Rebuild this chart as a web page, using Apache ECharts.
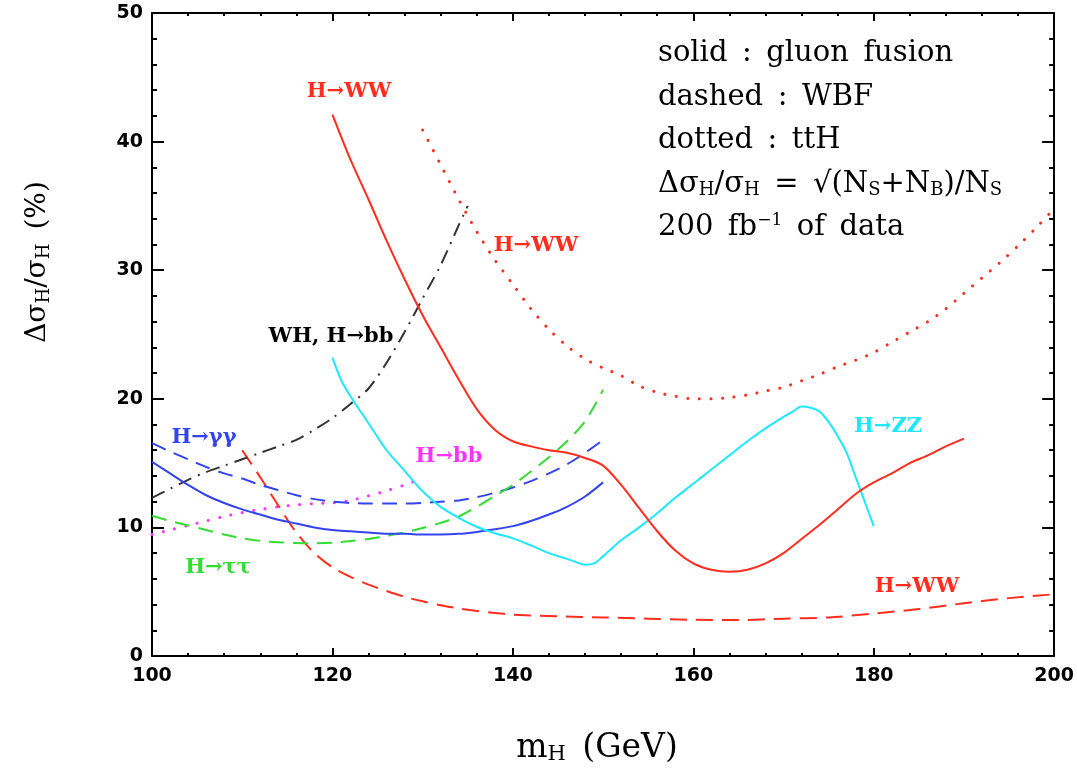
<!DOCTYPE html>
<html><head><meta charset="utf-8">
<script src="https://cdn.jsdelivr.net/npm/echarts@6/dist/echarts.min.js"></script>
<style>html,body{margin:0;padding:0;background:#fff}#c{width:1077px;height:772px}</style>
</head><body><div id="c"></div>
<script>
// ---- data ----
// gluon fusion, H->WW (red solid)
const wwGgfX = [120,122,124,126,128,130,132,134,136,138,140,142,144,146,148,150,152,154,156,158,160,162,164,166,168,170,172,174,176,178,180,182,184,186,188,190];
const wwGgfY = [42.1,38.6,35.5,32.3,29.3,26.5,24.0,21.5,19.2,17.6,16.7,16.3,16.0,15.8,15.4,14.8,13.3,11.5,9.7,8.2,7.2,6.7,6.55,6.7,7.2,8.0,9.1,10.2,11.4,12.6,13.5,14.2,15.0,15.6,16.3,16.9];
// ttH, H->WW (red dotted)
const wwTthX = [130,132,134,136,138,140,142,144,146,148,150,152,154,156,158,160,162,164,166,168,170,172,174,176,178,180,182,184,186,188,190,192,194,196,198,200];
const wwTthY = [40.9,38.2,35.5,33.0,30.8,28.9,27.0,25.4,24.1,23.1,22.4,21.8,21.0,20.5,20.2,20.0,20.0,20.1,20.3,20.6,20.9,21.4,21.9,22.5,23.0,23.6,24.4,25.2,26.0,27.0,28.2,29.4,30.6,31.9,33.3,34.8];
// WBF, H->WW (red dashed)
const wwWbfX = [110,112,114,116,118,120,122,124,126,128,130,132,134,136,138,140,145,150,155,160,165,170,175,180,185,190,195,200];
const wwWbfY = [16.0,13.9,11.7,9.6,8.0,6.9,6.15,5.55,5.05,4.6,4.25,3.95,3.7,3.5,3.35,3.22,3.08,3.0,2.9,2.82,2.8,2.9,3.0,3.3,3.65,4.1,4.5,4.8];
// gluon fusion, H->ZZ (cyan solid)
const zzX = [120,121,122,124,126,128,130,132,134,136,138,140,142,144,146,147,148,149,150,152,154,156,158,160,162,164,166,168,170,171,172,173,174,175,176,177,178,179,180];
const zzY = [23.2,21.4,20.2,18.1,16.0,14.4,12.8,11.6,10.75,10.05,9.55,9.15,8.6,8.0,7.55,7.3,7.1,7.2,7.75,9.0,10.0,11.1,12.3,13.4,14.5,15.6,16.7,17.7,18.6,19.0,19.4,19.3,19.0,18.2,17.1,15.8,13.9,12.0,10.1];
// H->gamma gamma (blue), H->tau tau (green), x from 100 to 150
const lowX = [100,102,104,106,108,110,112,114,116,118,120,122,124,126,128,130,132,134,136,138,140,142,144,146,148,150];
const gamGgfY = [15.1,14.2,13.3,12.5,11.9,11.4,11.0,10.6,10.3,10.0,9.8,9.7,9.6,9.5,9.5,9.45,9.45,9.5,9.65,9.85,10.1,10.5,11.0,11.6,12.4,13.5];
const gamWbfY = [16.55,15.9,15.3,14.7,14.2,13.8,13.3,12.9,12.5,12.2,12.0,11.9,11.85,11.85,11.85,11.9,12.0,12.1,12.35,12.7,13.1,13.6,14.2,14.9,15.8,16.8];
const tauWbfY = [10.9,10.5,10.15,9.8,9.45,9.15,8.95,8.85,8.78,8.76,8.8,8.95,9.1,9.35,9.6,9.95,10.35,10.85,11.6,12.45,13.3,14.35,15.45,16.7,18.25,20.7];
// ttH, H->bb (magenta dotted)
const bbTthX = [100,102,104,106,108,110,112,114,116,118,120,122,124,126,128,130];
const bbTthY = [9.45,9.8,10.15,10.5,10.85,11.15,11.4,11.6,11.75,11.85,11.9,12.1,12.45,12.85,13.3,13.85];
// WH, H->bb (dash-dot)
const whbbX = [100,102,104,106,108,110,112,114,116,118,120,122,124,126,128,130,132,134,135];
const whbbY = [12.3,13.0,13.7,14.3,14.8,15.3,15.8,16.3,16.8,17.6,18.5,19.6,20.8,22.8,25.2,27.8,30.4,33.5,35.0];
// axes
const xMin = 100, xMax = 200, xStep = 20;
const yMin = 0, yMax = 50, yStep = 10;

const RED='#ff2d1e', BLUE='#3344ee', CYAN='#1ee8ff', GREEN='#33dd33', MAG='#ff33ff', DARK='#333333';
const pair = (xs, ys) => xs.map((x, i) => [x, ys[i]]);
function line(xs, ys, color, type, width, cap) {
  return { type:'line', data: pair(xs, ys), showSymbol:false, symbol:'none', smooth:0.3,
    silent:true, animation:false, lineStyle:{ color, width: width||2, type: type||'solid', cap: cap||'butt', join:'round' } };
}
const chart = echarts.init(document.getElementById('c'));
const axisCommon = {
  axisLine:{ show:true, onZero:false, lineStyle:{ color:'#000', width:2 } },
  splitLine:{ show:false }, minorSplitLine:{ show:false },
};
const serif = 'DejaVu Serif';
const lab = (text, x, y, color, size) => ({ type:'text', x, y, silent:true, z:10,
  style:{ text, fill: color, font: 'bold ' + (size||21) + 'px "' + serif + '"', align:'center', verticalAlign:'middle' } });
const rich = {
  m:{ fontFamily: serif, fontSize:29, lineHeight:30, color:'#000' },
  s:{ fontFamily: serif, fontSize:18, lineHeight:6, verticalAlign:'bottom', color:'#000' },
  p:{ fontFamily: serif, fontSize:17, lineHeight:14, verticalAlign:'top', color:'#000' }
};
const note = (text, y) => ({ type:'text', x:658, y, silent:true, z:10,
  style:{ text, rich, align:'left', verticalAlign:'middle' } });
const xTitleRich = {
  m:{ fontFamily: serif, fontSize:33, lineHeight:34, color:'#000' },
  s:{ fontFamily: serif, fontSize:21, lineHeight:6, verticalAlign:'bottom', color:'#000' }
};
const yTitleRich = {
  m:{ fontFamily: serif, fontSize:28, lineHeight:30, color:'#000' },
  s:{ fontFamily: serif, fontSize:18, lineHeight:6, verticalAlign:'bottom', color:'#000' }
};
const SP = '\u2002';
chart.setOption({
  animation:false,
  backgroundColor:'#fff',
  grid:{ left:152, right:22, top:13, bottom:116, containLabel:false },
  xAxis:[
    Object.assign({ type:'value', min:xMin, max:xMax, interval:xStep, position:'bottom',
      axisTick:{ show:true, inside:true, length:8, lineStyle:{ color:'#000', width:2 } },
      minorTick:{ show:true, splitNumber:5, length:3, lineStyle:{ color:'#000', width:2 } },
      axisLabel:{ color:'#000', fontFamily:'DejaVu Sans', fontWeight:'bold', fontSize:19, margin:11 } }, axisCommon),
    Object.assign({ type:'value', min:xMin, max:xMax, interval:xStep, position:'top',
      axisTick:{ show:true, inside:true, length:8, lineStyle:{ color:'#000', width:2 } },
      minorTick:{ show:true, splitNumber:5, length:3, lineStyle:{ color:'#000', width:2 } },
      axisLabel:{ show:false } }, axisCommon)
  ],
  yAxis:[
    Object.assign({ type:'value', min:yMin, max:yMax, interval:yStep, position:'left',
      axisTick:{ show:true, inside:true, length:12, lineStyle:{ color:'#000', width:2 } },
      minorTick:{ show:true, splitNumber:5, length:5, lineStyle:{ color:'#000', width:2 } },
      axisLabel:{ color:'#000', fontFamily:'DejaVu Sans', fontWeight:'bold', fontSize:19, margin:9 } }, axisCommon),
    Object.assign({ type:'value', min:yMin, max:yMax, interval:yStep, position:'right',
      axisTick:{ show:true, inside:true, length:12, lineStyle:{ color:'#000', width:2 } },
      minorTick:{ show:true, splitNumber:5, length:5, lineStyle:{ color:'#000', width:2 } },
      axisLabel:{ show:false } }, axisCommon)
  ],
  series:[
    line(wwTthX, wwTthY, RED, [0.1, 11.5], 3, 'round'),
    line(bbTthX, bbTthY, MAG, [0.1, 11.5], 3, 'round'),
    line(wwWbfX, wwWbfY, RED, [17, 9], 2),
    line(lowX, gamWbfY, BLUE, [15, 9], 2),
    line(lowX, tauWbfY, GREEN, [15, 9], 2),
    line(whbbX, whbbY, DARK, [14, 7, 2, 7], 2),
    line(lowX, gamGgfY, BLUE, 'solid', 2),
    line(zzX, zzY, CYAN, 'solid', 2),
    line(wwGgfX, wwGgfY, RED, 'solid', 2)
  ],
  graphic:[
    lab('H\u2192WW', 349, 92, RED),
    lab('H\u2192WW', 536, 246, RED),
    lab('WH, H\u2192bb', 331, 337, '#000'),
    lab('H\u2192\u03b3\u03b3', 204, 438, BLUE),
    lab('H\u2192bb', 449, 457, MAG),
    lab('H\u2192\u03c4\u03c4', 218, 568, GREEN),
    lab('H\u2192ZZ', 888, 427, CYAN),
    lab('H\u2192WW', 917, 587, RED),
    note('{m|solid' + SP + ':' + SP + 'gluon' + SP + 'fusion}', 53),
    note('{m|dashed' + SP + ':' + SP + 'WBF}', 97),
    note('{m|dotted' + SP + ':' + SP + 'ttH}', 140),
    note('{m|\u0394\u03c3}{s|H}{m|/\u03c3}{s|H}{m|' + SP + '=' + SP + '\u221a(N}{s|S}{m|+N}{s|B}{m|)/N}{s|S}', 184),
    note('{m|200' + SP + 'fb}{p|\u22121}{m|' + SP + 'of' + SP + 'data}', 227),
    { type:'text', x:597, y:748, silent:true, style:{ text:'{m|m}{s|H}{m|' + SP + '(GeV)}', rich:xTitleRich, align:'center', verticalAlign:'middle' } },
    { type:'text', x:38, y:262, rotation:Math.PI/2, silent:true, style:{ text:'{m|\u0394\u03c3}{s|H}{m|/\u03c3}{s|H}{m|' + SP + '(%)}', rich:yTitleRich, align:'center', verticalAlign:'middle' } }
  ]
});
</script></body></html>
